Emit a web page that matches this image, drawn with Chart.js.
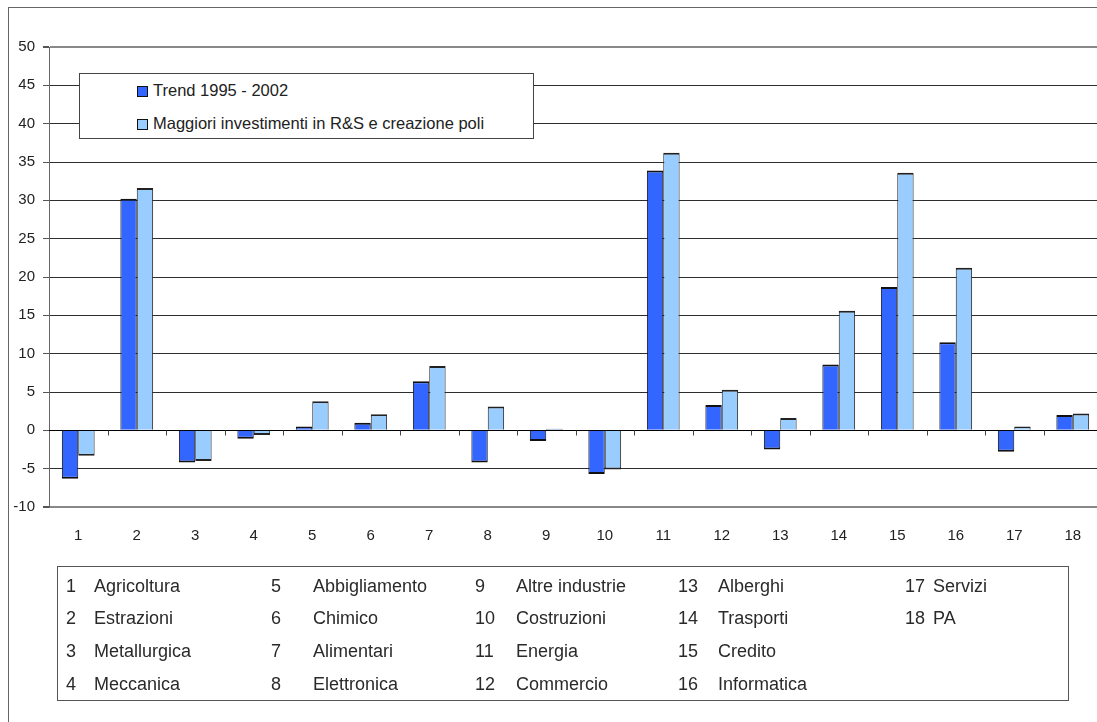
<!DOCTYPE html>
<html lang="it">
<head>
<meta charset="utf-8">
<title>Trend e investimenti per settore</title>
<script src="https://cdn.jsdelivr.net/npm/chart.js@4.4.1/dist/chart.umd.min.js"></script>
<style>
  html, body { margin: 0; padding: 0; background: #fff; overflow: hidden; }
  #wrap { position: relative; width: 1106px; height: 722px; }
  #chart { position: absolute; left: 0; top: 0; }
  #legend {
    position: absolute; left: 79px; top: 73px; width: 455px; height: 66px;
    border: 1px solid #444; background: #fff; box-sizing: border-box;
    font-family: "Liberation Sans", Arial, sans-serif; font-size: 16.5px; color: #222;
  }
  #legend .item { position: absolute; left: 57px; height: 20px; line-height: 20px; white-space: nowrap; }
  #legend .box {
    display: inline-block; width: 9px; height: 9px; border: 1px solid #111;
    margin-right: 5px; vertical-align: -1px;
  }
  #sectors {
    position: absolute; left: 57px; top: 566px; width: 1012px; height: 135px;
    border: 1px solid #555; box-sizing: border-box;
    font-family: "Liberation Sans", Arial, sans-serif; font-size: 18px; color: #2a2a2a;
  }
  #sectors span { position: absolute; line-height: 22px; white-space: nowrap; }
</style>
</head>
<body>
<div id="wrap">
  <canvas id="chart" width="1106" height="722"></canvas>
  <div id="legend"></div>
  <div id="sectors"></div>
</div>
<script>
// Sector codes shown on the category axis
const categories = ['1','2','3','4','5','6','7','8','9','10','11','12','13','14','15','16','17','18'];

// Sector names listed in the key below the chart
const sectorNames = [
  'Agricoltura', 'Estrazioni', 'Metallurgica', 'Meccanica',
  'Abbigliamento', 'Chimico', 'Alimentari', 'Elettronica',
  'Altre industrie', 'Costruzioni', 'Energia', 'Commercio',
  'Alberghi', 'Trasporti', 'Credito', 'Informatica',
  'Servizi', 'PA'
];

// Series
const trendLabel = 'Trend 1995 - 2002';
const trendValues = [-6.3, 30.2, -4.2, -1.1, 0.5, 1.0, 6.4, -4.2, -1.4, -5.7, 33.9, 3.3, -2.5, 8.6, 18.7, 11.5, -2.8, 2.0];

const investLabel = 'Maggiori investimenti in R&S e creazione poli';
const investValues = [-3.3, 31.6, -4.0, -0.6, 3.8, 2.1, 8.4, 3.1, 0.2, -5.1, 36.2, 5.3, 1.6, 15.6, 33.6, 21.2, 0.5, 2.2];

// Value axis
const yMin = -10;
const yMax = 50;
const yStep = 5;

const FONT = '"Liberation Sans", Arial, sans-serif';

// Heavier edge on the far end of each bar, thin sides
function barBorder(ctx) {
  const v = ctx.raw;
  return v >= 0
    ? { top: 2, left: 1, right: 1, bottom: 0 }
    : { top: 0, left: 1, right: 1, bottom: 2 };
}

// Outer frame and the tick marks along the zero line
const framePlugin = {
  id: 'frame',
  beforeDraw(chart) {
    const c = chart.ctx;
    c.save();
    c.strokeStyle = '#666';
    c.lineWidth = 1;
    c.strokeRect(8.5, 7.5, 3000, 3000);
    c.restore();
  },
  afterDatasetsDraw(chart) {
    const x = chart.scales.x;
    const y = chart.scales.y;
    const y0 = Math.round(y.getPixelForValue(0)) + 0.5;
    const c = chart.ctx;
    c.save();
    c.strokeStyle = '#000';
    c.lineWidth = 1;
    c.beginPath();
    c.moveTo(chart.chartArea.left, y0);
    c.lineTo(chart.chartArea.right, y0);
    c.stroke();
    c.strokeStyle = '#444';
    c.beginPath();
    for (let i = 1; i < categories.length; i++) {
      const bx = Math.round((x.getPixelForValue(i - 1) + x.getPixelForValue(i)) / 2) + 0.5;
      c.moveTo(bx, y0);
      c.lineTo(bx, y0 + 5);
    }
    c.stroke();
    c.restore();
  }
};

const chart = new Chart(document.getElementById('chart'), {
  type: 'bar',
  data: {
    labels: categories,
    datasets: [
      {
        label: trendLabel,
        data: trendValues,
        backgroundColor: '#3366FF',
        borderColor: '#111',
        borderWidth: barBorder,
        borderSkipped: false
      },
      {
        label: investLabel,
        data: investValues,
        backgroundColor: '#99CCFF',
        borderColor: '#222',
        borderWidth: barBorder,
        borderSkipped: false
      }
    ]
  },
  options: {
    responsive: false,
    animation: false,
    devicePixelRatio: 1,
    layout: { padding: { left: 8, top: 47, right: 4, bottom: 175 } },
    plugins: {
      legend: { display: false },
      tooltip: { enabled: false }
    },
    datasets: {
      bar: { categoryPercentage: 0.56, barPercentage: 1.0 }
    },
    scales: {
      x: {
        grid: { display: false },
        border: { display: false },
        ticks: { color: '#222', font: { family: FONT, size: 15 }, padding: 12 },
        afterFit(scale) { scale.height = 40; }
      },
      y: {
        min: yMin,
        max: yMax,
        ticks: {
          stepSize: yStep,
          color: '#222',
          padding: 8,
          font: { family: FONT, size: 15 }
        },
        grid: {
          color: (ctx) => {
            const v = ctx.tick ? ctx.tick.value : null;
            if (v === yMax || v === yMin) return '#888';
            if (v === 0) return '#000';
            return '#2e2e2e';
          },
          lineWidth: (ctx) => {
            const v = ctx.tick ? ctx.tick.value : null;
            return (v === yMax || v === yMin) ? 2 : 1;
          },
          drawTicks: true,
          tickLength: 6,
          tickColor: '#555'
        },
        border: { color: '#666', width: 1 },
        afterFit(scale) { scale.width = 41; }
      }
    }
  },
  plugins: [framePlugin]
});

// Series key inside the plot
(function buildLegend() {
  const el = document.getElementById('legend');
  const rowsTop = [6, 39];
  chart.data.datasets.forEach((ds, i) => {
    const item = document.createElement('div');
    item.className = 'item';
    item.style.top = rowsTop[i] + 'px';
    const box = document.createElement('span');
    box.className = 'box';
    box.style.background = ds.backgroundColor;
    item.appendChild(box);
    item.appendChild(document.createTextNode(ds.label));
    el.appendChild(item);
  });
})();

// Sector key: five columns of four rows
(function buildSectorKey() {
  const el = document.getElementById('sectors');
  const numX = [8, 213, 417, 620, 847];
  const nameX = [36, 255, 458, 660, 875];
  const rowY = [8, 40, 73, 106];
  categories.forEach((code, k) => {
    const col = Math.floor(k / 4);
    const row = k % 4;
    const n = document.createElement('span');
    n.textContent = code;
    n.style.left = numX[col] + 'px';
    n.style.top = rowY[row] + 'px';
    const t = document.createElement('span');
    t.textContent = sectorNames[k];
    t.style.left = nameX[col] + 'px';
    t.style.top = rowY[row] + 'px';
    el.appendChild(n);
    el.appendChild(t);
  });
})();
</script>
</body>
</html>
